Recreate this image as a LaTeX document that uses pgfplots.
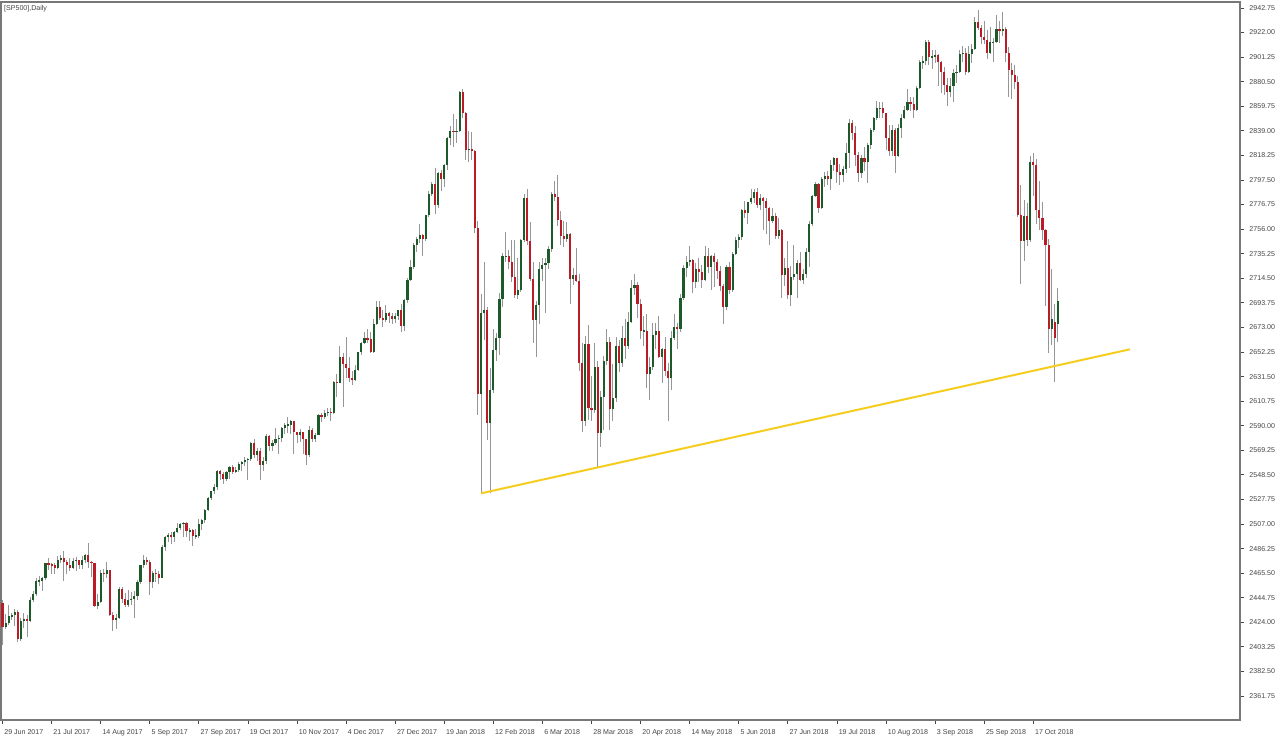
\documentclass[border=0pt]{standalone}
\usepackage{fontspec}
\setmainfont{Liberation Sans}
\usepackage{pgfplots}
\usepackage{pgfplotstable}
\pgfplotsset{compat=1.18}
\definecolor{bull}{RGB}{28,90,42}
\definecolor{bear}{RGB}{185,28,38}
\definecolor{wick}{RGB}{150,150,150}
\definecolor{trend}{RGB}{245,205,30}
\definecolor{lab}{RGB}{70,70,70}
\definecolor{frm}{RGB}{120,120,120}
\pgfplotstableread{
i o h l c
0 2440 2443 2405 2420
1 2420 2431 2418 2423
2 2423 2439 2422 2429
3 2429 2432 2426 2430
4 2430 2435 2421 2433
5 2433 2434 2407 2410
6 2410 2428 2408 2425
7 2425 2432 2419 2427
8 2427 2430 2412 2425
9 2425 2445 2424 2443
10 2443 2450 2441 2448
11 2448 2461 2446 2459
12 2459 2463 2455 2459
13 2459 2462 2450 2461
14 2461 2474 2460 2474
15 2474 2478 2468 2473
16 2473 2474 2465 2472
17 2472 2474 2465 2470
18 2470 2480 2469 2477
19 2477 2481 2474 2478
20 2478 2484 2459 2475
21 2475 2477 2465 2472
22 2472 2478 2467 2470
23 2470 2478 2469 2476
24 2476 2479 2467 2477
25 2477 2477 2469 2472
26 2472 2480 2469 2477
27 2477 2482 2474 2481
28 2481 2491 2470 2475
29 2475 2476 2462 2474
30 2474 2474 2437 2438
31 2438 2448 2435 2441
32 2441 2468 2440 2466
33 2466 2469 2458 2465
34 2465 2475 2461 2468
35 2468 2468 2429 2430
36 2430 2433 2417 2426
37 2426 2431 2418 2428
38 2428 2454 2427 2452
39 2452 2454 2440 2444
40 2444 2449 2437 2439
41 2439 2451 2437 2443
42 2443 2450 2439 2444
43 2444 2450 2428 2446
44 2446 2460 2443 2458
45 2458 2472 2456 2472
46 2472 2481 2470 2477
47 2477 2479 2472 2475
48 2475 2477 2447 2458
49 2458 2467 2453 2466
50 2466 2469 2458 2465
51 2465 2467 2456 2461
52 2461 2489 2461 2488
53 2488 2497 2484 2496
54 2496 2499 2492 2498
55 2498 2500 2490 2496
56 2496 2501 2492 2500
57 2500 2508 2499 2504
58 2504 2508 2502 2507
59 2507 2509 2496 2508
60 2508 2509 2496 2501
61 2501 2504 2493 2502
62 2502 2503 2488 2497
63 2497 2503 2494 2497
64 2497 2511 2495 2507
65 2507 2511 2502 2510
66 2510 2520 2508 2519
67 2519 2530 2518 2529
68 2529 2535 2527 2535
69 2535 2541 2532 2538
70 2538 2553 2536 2552
71 2552 2553 2544 2549
72 2549 2551 2541 2545
73 2545 2552 2543 2551
74 2551 2556 2545 2555
75 2555 2557 2549 2551
76 2551 2555 2550 2553
77 2553 2559 2551 2558
78 2558 2560 2552 2559
79 2559 2564 2556 2561
80 2561 2563 2544 2562
81 2562 2576 2560 2575
82 2575 2579 2563 2565
83 2565 2571 2560 2569
84 2569 2571 2544 2557
85 2557 2564 2552 2560
86 2560 2583 2558 2581
87 2581 2582 2569 2573
88 2573 2578 2569 2575
89 2575 2588 2574 2579
90 2579 2582 2566 2580
91 2580 2589 2576 2588
92 2588 2592 2583 2591
93 2591 2597 2584 2591
94 2591 2595 2583 2594
95 2594 2594 2566 2585
96 2585 2585 2575 2582
97 2582 2587 2576 2585
98 2585 2585 2566 2579
99 2579 2579 2557 2565
100 2565 2590 2564 2586
101 2586 2588 2576 2579
102 2579 2584 2576 2582
103 2582 2600 2582 2599
104 2599 2601 2593 2597
105 2597 2603 2596 2601
106 2601 2605 2598 2602
107 2602 2605 2594 2601
108 2601 2628 2600 2627
109 2627 2634 2614 2626
110 2626 2657 2626 2648
111 2648 2651 2606 2642
112 2642 2665 2630 2639
113 2639 2648 2627 2630
114 2630 2636 2624 2629
115 2629 2641 2628 2637
116 2637 2652 2636 2652
117 2652 2661 2650 2660
118 2660 2669 2659 2664
119 2664 2672 2660 2663
120 2663 2669 2651 2652
121 2652 2680 2651 2676
122 2676 2695 2675 2690
123 2690 2695 2679 2681
124 2681 2688 2673 2679
125 2679 2692 2678 2685
126 2685 2686 2677 2683
127 2683 2685 2676 2680
128 2680 2685 2677 2683
129 2683 2688 2679 2688
130 2688 2693 2669 2674
131 2674 2697 2670 2696
132 2696 2715 2694 2713
133 2713 2730 2712 2724
134 2724 2744 2722 2743
135 2743 2749 2737 2748
136 2748 2760 2744 2751
137 2751 2752 2733 2748
138 2748 2768 2746 2768
139 2768 2788 2766 2786
140 2786 2796 2784 2794
141 2794 2808 2769 2776
142 2776 2804 2774 2803
143 2803 2806 2788 2798
144 2798 2811 2792 2810
145 2810 2834 2806 2833
146 2833 2843 2827 2839
147 2839 2853 2825 2838
148 2838 2849 2829 2839
149 2839 2873 2838 2872
150 2872 2874 2850 2854
151 2854 2855 2814 2823
152 2823 2839 2813 2824
153 2824 2838 2814 2822
154 2822 2823 2753 2757
155 2757 2763 2599 2617
156 2617 2701 2533 2685
157 2685 2728 2662 2688
158 2688 2690 2578 2592
159 2592 2639 2533 2620
160 2620 2672 2618 2654
161 2654 2668 2645 2664
162 2664 2702 2650 2697
163 2697 2736 2690 2733
164 2733 2754 2728 2733
165 2733 2738 2722 2728
166 2728 2747 2711 2716
167 2716 2747 2698 2700
168 2700 2732 2697 2705
169 2705 2748 2703 2747
170 2747 2786 2745 2782
171 2782 2790 2743 2746
172 2746 2762 2712 2714
173 2714 2728 2660 2679
174 2679 2695 2648 2692
175 2692 2728 2676 2722
176 2722 2732 2712 2726
177 2726 2732 2685 2727
178 2727 2742 2722 2739
179 2739 2787 2737 2786
180 2786 2797 2780 2783
181 2783 2802 2759 2764
182 2764 2771 2743 2750
183 2750 2763 2741 2748
184 2748 2762 2745 2752
185 2752 2753 2693 2714
186 2714 2723 2709 2717
187 2717 2740 2711 2712
188 2712 2718 2636 2643
189 2643 2660 2585 2594
190 2594 2666 2590 2659
191 2659 2675 2595 2605
192 2605 2632 2594 2603
193 2603 2660 2601 2640
194 2640 2645 2554 2584
195 2584 2619 2572 2614
196 2614 2649 2586 2645
197 2645 2672 2641 2661
198 2661 2665 2586 2604
199 2604 2642 2594 2613
200 2613 2665 2610 2657
201 2657 2662 2635 2643
202 2643 2674 2640 2664
203 2664 2680 2646 2657
204 2657 2686 2655 2678
205 2678 2713 2677 2706
206 2706 2718 2700 2709
207 2709 2711 2681 2693
208 2693 2697 2663 2670
209 2670 2683 2657 2670
210 2670 2684 2622 2634
211 2634 2648 2612 2640
212 2640 2677 2637 2667
213 2667 2677 2655 2670
214 2670 2683 2647 2648
215 2648 2656 2626 2655
216 2655 2665 2632 2636
217 2636 2643 2594 2630
218 2630 2670 2620 2664
219 2664 2684 2662 2673
220 2673 2677 2655 2672
221 2672 2701 2669 2698
222 2698 2726 2696 2723
223 2723 2733 2716 2728
224 2728 2742 2725 2730
225 2730 2731 2702 2711
226 2711 2727 2706 2722
227 2722 2732 2711 2720
228 2720 2726 2706 2713
229 2713 2742 2712 2733
230 2733 2740 2719 2724
231 2724 2734 2705 2733
232 2733 2736 2707 2728
233 2728 2731 2714 2721
234 2721 2725 2704 2708
235 2708 2710 2676 2690
236 2690 2726 2688 2724
237 2724 2728 2701 2705
238 2705 2737 2703 2735
239 2735 2749 2734 2747
240 2747 2752 2740 2749
241 2749 2773 2747 2772
242 2772 2780 2765 2770
243 2770 2779 2760 2779
244 2779 2790 2777 2782
245 2782 2790 2778 2787
246 2787 2791 2774 2776
247 2776 2786 2772 2782
248 2782 2783 2755 2780
249 2780 2782 2752 2774
250 2774 2775 2743 2763
251 2763 2774 2761 2767
252 2767 2770 2748 2750
253 2750 2765 2748 2755
254 2755 2756 2698 2717
255 2717 2732 2708 2723
256 2723 2746 2697 2700
257 2700 2725 2691 2716
258 2716 2743 2713 2718
259 2718 2730 2698 2727
260 2727 2737 2712 2713
261 2713 2722 2710 2718
262 2718 2740 2715 2737
263 2737 2763 2724 2760
264 2760 2785 2759 2784
265 2784 2796 2783 2794
266 2794 2795 2770 2774
267 2774 2800 2773 2798
268 2798 2804 2792 2801
269 2801 2805 2793 2798
270 2798 2814 2789 2810
271 2810 2817 2805 2816
272 2816 2816 2795 2804
273 2804 2811 2793 2802
274 2802 2809 2796 2807
275 2807 2829 2803 2820
276 2820 2849 2808 2846
277 2846 2848 2831 2837
278 2837 2843 2809 2819
279 2819 2821 2796 2803
280 2803 2819 2799 2816
281 2816 2825 2805 2813
282 2813 2829 2795 2827
283 2827 2841 2824 2840
284 2840 2851 2838 2850
285 2850 2864 2848 2858
286 2858 2863 2850 2858
287 2858 2863 2850 2854
288 2854 2854 2823 2833
289 2833 2844 2818 2822
290 2822 2844 2818 2840
291 2840 2841 2803 2818
292 2818 2845 2817 2841
293 2841 2853 2833 2850
294 2850 2860 2849 2857
295 2857 2874 2856 2863
296 2863 2868 2856 2862
297 2862 2868 2850 2857
298 2857 2877 2856 2875
299 2875 2899 2874 2897
300 2897 2902 2891 2898
301 2898 2916 2895 2914
302 2914 2916 2895 2901
303 2901 2907 2891 2902
304 2902 2907 2896 2903
305 2903 2904 2877 2897
306 2897 2898 2871 2889
307 2889 2893 2869 2878
308 2878 2884 2860 2872
309 2872 2884 2868 2877
310 2877 2891 2863 2888
311 2888 2895 2879 2889
312 2889 2907 2888 2904
313 2904 2911 2897 2905
314 2905 2909 2886 2889
315 2889 2911 2888 2904
316 2904 2912 2896 2908
317 2908 2935 2907 2931
318 2931 2941 2924 2926
319 2926 2928 2912 2918
320 2918 2932 2912 2916
321 2916 2924 2900 2905
322 2905 2927 2904 2914
323 2914 2917 2897 2914
324 2914 2937 2913 2925
325 2925 2932 2913 2923
326 2923 2939 2919 2925
327 2925 2927 2897 2905
328 2905 2910 2868 2890
329 2890 2896 2866 2886
330 2886 2895 2874 2880
331 2880 2885 2766 2768
332 2768 2793 2710 2746
333 2746 2781 2729 2767
334 2767 2778 2742 2747
335 2747 2818 2745 2813
336 2813 2820 2784 2810
337 2810 2815 2760 2772
338 2772 2797 2755 2765
339 2765 2779 2747 2755
340 2755 2756 2691 2743
341 2743 2748 2651 2672
342 2672 2722 2658 2680
343 2678 2693 2627 2664
344 2676 2706 2661 2695
}\ohlc
\begin{document}
\begin{tikzpicture}
\useasboundingbox (0,0) rectangle (960pt,552pt);
\fill[white] (0,0) rectangle (960pt,552pt);
\begin{axis}[
  at={(0.75pt,12pt)}, anchor=south west,
  scale only axis, width=929.25pt, height=538.5pt,
  xmin=-0.49, xmax=403.4, ymin=2341.48, ymax=2947.82,
  axis line style={frm, line width=0.9pt},
  tick align=outside, major tick length=3pt,
  major tick style={lab, line width=0.6pt},
  xtick pos=left, ytick pos=right, yticklabel pos=right,
  xtick={0,16,...,336},
  xticklabels={29 Jun 2017,21 Jul 2017,14 Aug 2017,5 Sep 2017,27 Sep 2017,19 Oct 2017,10 Nov 2017,4 Dec 2017,27 Dec 2017,19 Jan 2018,12 Feb 2018,6 Mar 2018,28 Mar 2018,20 Apr 2018,14 May 2018,5 Jun 2018,27 Jun 2018,19 Jul 2018,10 Aug 2018,3 Sep 2018,25 Sep 2018,17 Oct 2018},
  ytick={2361.75,2382.5,2403.25,2424,2444.75,2465.5,2486.25,2507,2527.75,2548.5,2569.25,2590,2610.75,2631.5,2652.25,2673,2693.75,2714.5,2735.25,2756,2776.75,2797.5,2818.25,2839,2859.75,2880.5,2901.25,2922,2942.75},
  x tick label style={font=\fontsize{5.3}{6}\selectfont, text=lab, anchor=north west, inner sep=0pt, xshift=1.2pt, yshift=-4.2pt},
  y tick label style={font=\fontsize{5.3}{6}\selectfont, text=lab, anchor=west, inner sep=0pt, xshift=3.9pt,
    /pgf/number format/fixed, /pgf/number format/fixed zerofill, /pgf/number format/precision=2,
    /pgf/number format/1000 sep={}, /pgf/number format/assume math mode=true},
  clip=true,
]
\addplot[draw=none, mark=none, forget plot, error bars/.cd, y dir=both, y explicit, error mark=none, error bar style={draw=wick, line width=0.75pt}]
  table[x=i, y expr={(\thisrow{h}+\thisrow{l})/2}, y error expr={(\thisrow{h}-\thisrow{l})/2}] {\ohlc};
\addplot[draw=none, mark=none, forget plot, error bars/.cd, y dir=both, y explicit, error mark=none, error bar style={draw=bull, line width=1.6pt}]
  table[x=i, y expr={\thisrow{c}>=\thisrow{o} ? (\thisrow{o}+\thisrow{c})/2 : nan}, y error expr={max(abs(\thisrow{c}-\thisrow{o})/2,0.45)}] {\ohlc};
\addplot[draw=none, mark=none, forget plot, error bars/.cd, y dir=both, y explicit, error mark=none, error bar style={draw=bear, line width=1.6pt}]
  table[x=i, y expr={\thisrow{c}<\thisrow{o} ? (\thisrow{o}+\thisrow{c})/2 : nan}, y error expr={max(abs(\thisrow{c}-\thisrow{o})/2,0.45)}] {\ohlc};
\addplot[trend, line width=1.5pt, mark=none] coordinates {(156,2532.9) (367.5,2654.5)};
\node[anchor=north west, inner sep=0pt, font=\fontsize{5.3}{6}\selectfont, text=lab] at (rel axis cs:0,1) [xshift=2.2pt, yshift=-2pt] {[SP500],Daily};
\end{axis}
\end{tikzpicture}
\end{document}
